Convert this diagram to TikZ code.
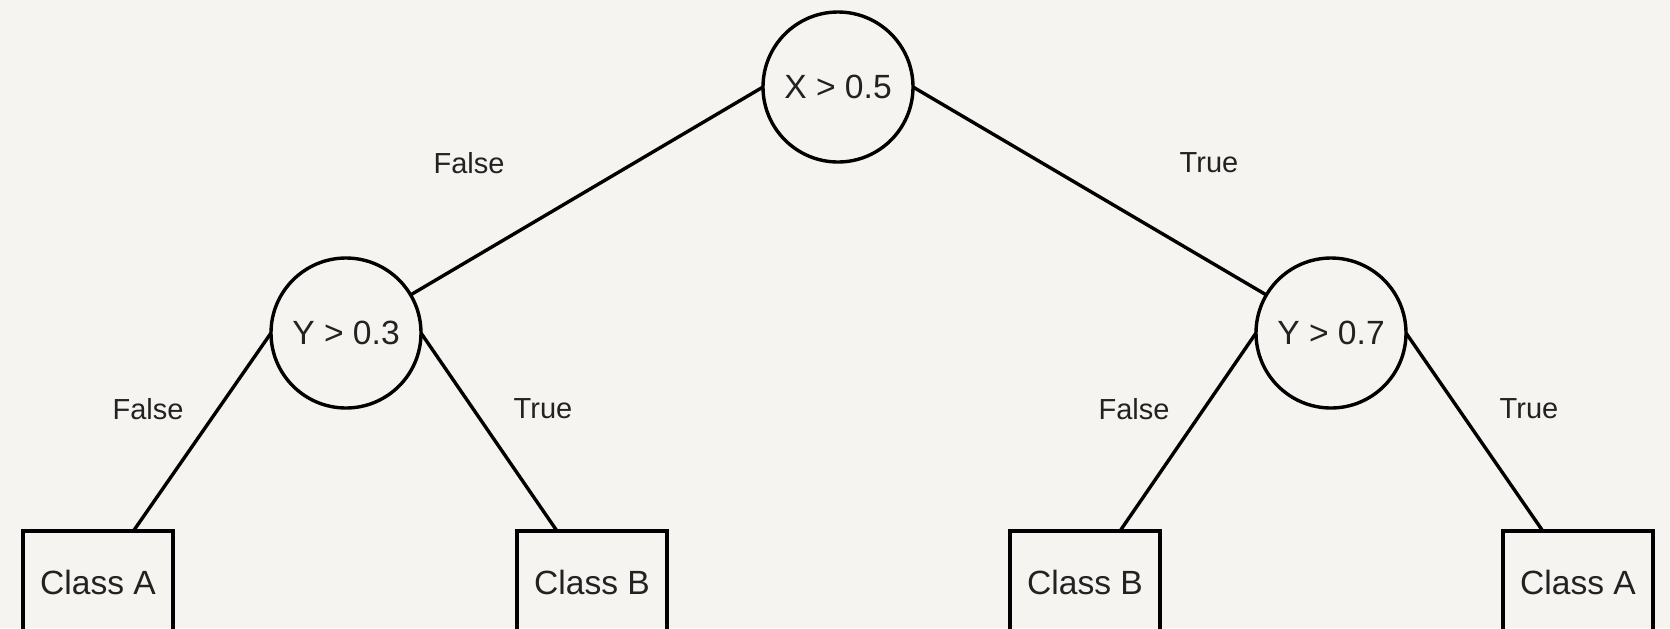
\documentclass[tikz,border=0pt]{standalone}
\usepackage{fontspec}
\setmainfont{Liberation Sans}
\definecolor{paper}{RGB}{245,244,240}
\definecolor{ink}{RGB}{34,34,34}
\begin{document}
\begin{tikzpicture}[x=0.5pt,y=-0.5pt,
  test/.style={circle,draw=black,line width=1.7pt,minimum size=75pt,inner sep=0pt,outer sep=0pt,text=ink,font=\fontsize{16.8}{18}\selectfont},
  leaf/.style={rectangle,draw=black,line width=1.7pt,minimum width=75pt,minimum height=51pt,inner sep=0pt,outer sep=0pt,text=ink,font=\fontsize{16.8}{18}\selectfont},
  branch/.style={text=ink,font=\fontsize{14.5}{16}\selectfont},
  edge/.style={line width=1.7pt,draw=black}]
\fill[paper] (0,0) rectangle (1670,628);
\useasboundingbox (0,0) rectangle (1670,628);
\clip (0,0) rectangle (1670,628);
% decision nodes
\node[test] (root) at (838,87) {X > 0.5};
\node[test] (yl) at (346,333) {Y > 0.3};
\node[test] (yr) at (1331,333) {Y > 0.7};
% leaves
\node[leaf] (l1) at (98,582) {Class A};
\node[leaf] (l2) at (592,582) {Class B};
\node[leaf] (l3) at (1085,582) {Class B};
\node[leaf] (l4) at (1578,582) {Class A};
% connectors
\draw[edge] (root.west) -- (yl);
\draw[edge] (root.east) -- (yr);
\draw[edge] (yl.west) -- (l1);
\draw[edge] (yl.east) -- (l2);
\draw[edge] (yr.west) -- (l3);
\draw[edge] (yr.east) -- (l4);
% branch labels
\node[branch] (f0) at (469,163) {False};
\node[branch] (t0) at (1209,163) {True};
\node[branch] (f1) at (148,409) {False};
\node[branch] (t1) at (543,409) {True};
\node[branch] (f2) at (1134,409) {False};
\node[branch] (t2) at (1529,409) {True};
\end{tikzpicture}
\end{document}
